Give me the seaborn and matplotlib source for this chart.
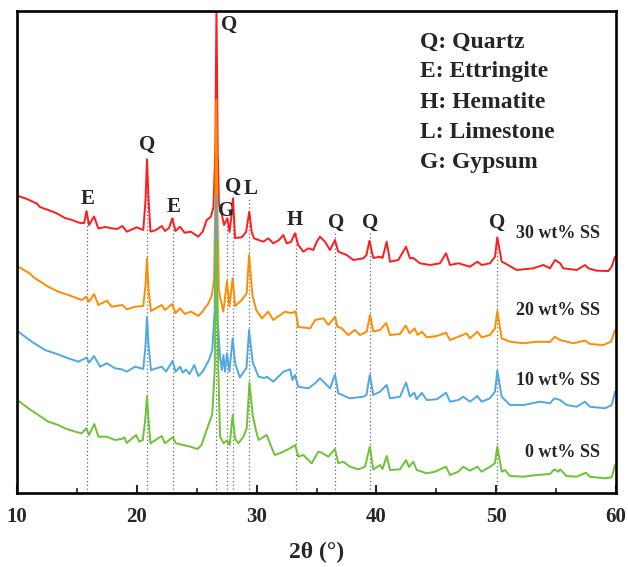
import numpy as np
import pandas as pd
import matplotlib
matplotlib.use("Agg")
import matplotlib.pyplot as plt
import seaborn as sns
from matplotlib.ticker import MultipleLocator

# ============================================================
# Data (2theta in degrees, intensity in a.u.)
# ============================================================

tt_30 = [10.11, 10.83, 11.64, 11.92, 12.59, 13.26, 14.0, 14.59, 15.26, 15.6,
         15.8, 16.01, 16.43, 16.79, 17.35, 17.9, 18.35, 18.8, 19.16, 19.68,
         19.99, 20.54, 20.73, 20.85, 20.98, 21.14, 21.6, 22.08, 22.35, 22.69,
         22.96, 23.23, 23.61, 23.98, 24.52, 25.13, 25.5, 25.83, 26.19, 26.4,
         26.55, 26.65, 26.75, 26.86, 27.07, 27.28, 27.56, 27.74, 27.91, 28.03,
         28.2, 28.76, 29.12, 29.39, 29.59, 29.78, 30.56, 30.98, 31.39, 31.87,
         32.23, 32.51, 32.87, 33.2, 33.48, 33.9, 34.32, 34.73, 35.02, 35.29,
         35.71, 36.13, 36.54, 36.82, 37.52, 38.07, 38.91, 39.17, 39.42, 39.74,
         40.3, 40.51, 40.86, 41.14, 41.83, 42.47, 42.8, 43.08, 43.64, 44.47,
         45.31, 45.81, 46.14, 46.84, 47.81, 48.42, 48.79, 49.48, 49.9, 50.09,
         50.46, 50.73, 51.71, 53.1, 53.93, 54.49, 54.91, 55.33, 55.6, 56.72,
         57.41, 57.69, 58.39, 59.36, 59.64, 59.92]
int_30 = [82, 79, 74.5, 71, 68, 65, 60, 58, 55, 55,
          67, 53, 61.5, 49.5, 51, 49.7, 49, 52, 46.3, 49,
          50.7, 48, 78, 118.7, 78, 46.3, 48, 52, 47, 50,
          59.7, 47, 51.3, 45.3, 46.3, 41.3, 46.3, 58, 61.3, 71.3,
          128, 272, 128, 73, 65, 53, 59.7, 46, 63, 79.7,
          40, 40.7, 46, 66.3, 46, 39.7, 36.3, 39.7, 34.7, 38,
          43, 34.7, 36, 44.7, 33, 26.3, 29.7, 28, 36.3, 41.3,
          36.3, 28, 38, 26.3, 23, 18, 19.7, 23, 37.3, 20,
          21.3, 20, 36.3, 16.3, 18, 31.3, 19.7, 20, 14.7, 13,
          14.7, 24.7, 13, 14.7, 11.3, 16.3, 13, 14.7, 21.3, 40.7,
          16.3, 14.7, 8, 9.7, 13, 9.7, 18, 14.7, 9.7, 8,
          13, 9.7, 7.3, 7, 11.3, 21.3]

tt_20 = [10.11, 11.0, 11.5, 12.6, 13.45, 14.28, 15.4, 15.76, 16.01, 16.43,
         16.79, 17.49, 17.9, 18.79, 19.16, 19.85, 20.54, 20.73, 20.85, 20.98,
         21.18, 22.08, 22.35, 22.96, 23.23, 23.61, 24.0, 24.52, 25.13, 25.47,
         25.94, 26.25, 26.45, 26.55, 26.63, 26.72, 26.85, 27.0, 27.22, 27.53,
         27.73, 28.0, 28.2, 28.76, 29.17, 29.37, 29.65, 29.97, 30.44, 30.98,
         31.39, 32.37, 32.87, 33.26, 33.48, 34.47, 34.88, 35.58, 35.99, 36.55,
         36.74, 37.1, 37.65, 38.21, 38.63, 39.19, 39.47, 39.74, 40.3, 40.81,
         41.14, 41.97, 42.44, 42.78, 43.19, 43.43, 43.8, 44.2, 45.04, 45.81,
         46.14, 46.84, 47.53, 47.81, 48.42, 48.79, 49.48, 49.9, 50.09, 50.46,
         51.15, 52.27, 53.38, 54.49, 54.9, 55.33, 56.44, 57.41, 57.83, 58.94,
         59.58, 59.92]
int_20 = [81.3, 75, 69.7, 61.3, 56.3, 53, 48, 51.3, 46.3, 54,
          43, 47.3, 41.3, 43, 38.7, 41.3, 42, 63, 89.7, 58,
          37, 43, 38, 44, 34.7, 39.7, 34, 36.5, 32, 36.3,
          44, 52, 68, 148, 248, 148, 58, 48, 36.3, 67,
          41.3, 69.7, 42, 48, 54.7, 93, 53, 38, 29.7, 36.3,
          28, 36.3, 35, 36.5, 21, 19.7, 28, 29.7, 23, 31.3,
          21.3, 19.7, 13, 18, 13, 16.3, 33, 16.5, 18, 25,
          13, 14, 22.5, 14.7, 19.7, 13, 16.3, 10.7, 12, 15.3,
          8, 11.3, 14.7, 9.7, 16.3, 10.7, 13, 19.7, 37, 9.7,
          6.3, 4.7, 6.3, 6, 11.3, 8, 4.7, 7.5, 4, 3,
          6.3, 18]

tt_10 = [10.11, 11.23, 12.34, 13.17, 14.28, 15.12, 15.82, 16.01, 16.43, 16.93,
         17.49, 18.18, 18.74, 19.16, 19.85, 20.54, 20.73, 20.85, 20.98, 21.18,
         22.08, 22.44, 22.99, 23.23, 23.61, 23.83, 24.1, 24.4, 24.8, 25.13,
         25.5, 26.02, 26.3, 26.5, 26.63, 26.75, 26.95, 27.1, 27.23, 27.36,
         27.53, 27.73, 28.0, 28.2, 28.6, 29.15, 29.37, 29.67, 30.16, 30.63,
         30.86, 31.39, 32.23, 32.79, 33.0, 33.2, 33.48, 34.32, 34.88, 35.29,
         35.71, 36.13, 36.54, 36.82, 37.79, 38.91, 39.17, 39.45, 39.74, 40.3,
         40.86, 41.14, 41.97, 42.47, 42.8, 43.16, 43.36, 43.78, 44.2, 45.04,
         45.81, 46.14, 46.84, 47.25, 47.81, 48.42, 48.79, 49.48, 49.9, 50.09,
         50.46, 51.15, 52.27, 53.66, 54.49, 54.85, 55.33, 55.88, 56.72, 57.41,
         57.83, 59.08, 59.64, 59.92]
int_10 = [86.3, 76.3, 68, 64.7, 59.7, 56.3, 60.5, 55.3, 62, 51.3,
          54.7, 49.7, 48.7, 46.3, 51.3, 49, 73, 101.3, 73, 48,
          51.3, 46.3, 57.3, 46.3, 51.3, 45.3, 48.5, 44, 53, 42,
          46.3, 58, 68, 108, 223, 98, 61.3, 48, 63, 46.3,
          64.7, 46.3, 79.7, 55, 40.5, 50, 88, 56, 41.3, 40,
          41.3, 36.3, 46.3, 48.7, 38, 43, 31.3, 29.7, 34.7, 39.7,
          34.7, 29.7, 43.5, 24.7, 19.7, 21.3, 23, 43.5, 23, 26.3,
          33, 19.7, 21.3, 35.5, 21.3, 25.3, 18.7, 25.3, 18, 18.7,
          25.3, 16.3, 18, 21.3, 16.3, 22, 16.3, 19.7, 26.3, 47.5,
          21.3, 13, 13, 16.3, 14.7, 19.7, 18, 13, 11.3, 16.3,
          11.3, 9.7, 13, 26.3]

tt_0 = [10.11, 10.94, 11.78, 12.61, 13.45, 14.0, 14.84, 15.4, 15.78, 16.01,
        16.45, 16.79, 17.49, 18.18, 18.74, 18.96, 19.16, 19.94, 20.2, 20.5,
        20.7, 20.85, 20.98, 21.14, 22.08, 22.35, 22.99, 23.27, 23.68, 24.35,
        25.06, 25.4, 25.92, 26.3, 26.5, 26.65, 26.8, 26.95, 27.25, 27.53,
        27.75, 28.0, 28.2, 28.48, 28.9, 29.18, 29.4, 29.67, 29.94, 30.16,
        30.84, 31.4, 31.53, 32.23, 32.79, 33.22, 33.48, 33.9, 34.6, 35.15,
        35.43, 35.99, 36.54, 36.82, 37.24, 37.79, 38.49, 39.05, 39.45, 39.74,
        40.3, 40.51, 40.86, 41.14, 41.97, 42.47, 42.72, 43.08, 43.36, 44.2,
        44.89, 45.81, 46.14, 46.84, 47.25, 47.81, 48.42, 48.79, 49.48, 49.9,
        50.09, 50.46, 50.73, 51.15, 52.27, 53.38, 54.49, 54.85, 55.19, 55.33,
        55.88, 56.72, 57.49, 57.83, 59.08, 59.64, 59.92]
int_0 = [92.2, 84.7, 78, 71.3, 68, 64.7, 61.3, 59.7, 64.7, 58,
         69, 56.3, 56.3, 53, 54, 55.7, 50, 58, 51.3, 53,
         73, 96.3, 73, 49.7, 57, 49.7, 55.7, 49.7, 48.5, 46.7,
         44, 48, 66, 79, 123, 253, 123, 56.3, 49.7, 52.7,
         48, 78, 54, 49.7, 56.3, 65, 110.5, 78, 63, 53,
         58, 41, 38, 41.3, 44.7, 48, 36.3, 38, 29.7, 41.3,
         40.3, 36.3, 44, 29.7, 31.3, 26.3, 23.7, 26.3, 46.3, 23.5,
         28, 24, 37, 23, 23.7, 33, 26, 31.3, 23, 19.7,
         21.3, 26.3, 18, 21.3, 26.3, 22.3, 26.3, 21.3, 26.3, 29.7,
         46.3, 21.3, 23, 17, 16.3, 18, 19, 23.7, 21.3, 23.7,
         17, 16.3, 20.3, 16.3, 14.7, 15.7, 28]

samples = ["30 wt% SS", "20 wt% SS", "10 wt% SS", "0 wt% SS"]
colors = ["#FF1C1C", "#FF8C00", "#4FA8E4", "#6CC334"]
offsets = [215, 145, 75, 0]

# phase markers: position, top of dotted line, label
peak_pos = [15.82, 20.85, 23.0, 26.62, 27.55, 28.03, 29.4, 33.25, 36.57, 39.47, 50.07]
peak_top = [282, 333, 275, 460, 275, 295, 295, 261, 261, 261, 250]
peak_lab = ["E", "Q", "E", "Q", "G", "Q", "L", "H", "Q", "Q", "Q"]
lab_x = [15.93, 20.85, 23.1, 27.7, 27.45, 28.05, 29.5, 33.2, 36.6, 39.45, 50.05]
lab_y = [294, 348, 286, 468, 282, 306, 304, 273, 270, 270, 270]

legend_lines = ["Q: Quartz", "E: Ettringite", "H: Hematite", "L: Limestone", "G: Gypsum"]

# ============================================================
# Build long table
# ============================================================

frames = []
for name, tt, inten, off in zip(samples,
                                [tt_30, tt_20, tt_10, tt_0],
                                [int_30, int_20, int_10, int_0],
                                offsets):
    frames.append(pd.DataFrame({
        "two_theta": tt,
        "intensity": np.array(inten) + off,
        "sample": name
    }))
df = pd.concat(frames, ignore_index=True)

# ============================================================
# Plot
# ============================================================

sns.set_style("ticks")
plt.rcParams["font.family"] = ["Liberation Serif", "DejaVu Serif"]
plt.rcParams["font.weight"] = "bold"

fig = plt.figure(figsize=(6.28, 5.67), dpi=100)
ax = fig.add_axes([0.0271, 0.1305, 0.9538, 0.8501])

ax.vlines(peak_pos, 0, peak_top, colors="#666666", linestyles=(0, (1, 2)), linewidth=0.9, zorder=1)

sns.lineplot(
    data=df,
    x="two_theta",
    y="intensity",
    hue="sample",
    hue_order=samples,
    palette=dict(zip(samples, colors)),
    estimator=None,
    sort=False,
    linewidth=1.4,
    legend=False,
    ax=ax
)

for x, y, t in zip(lab_x, lab_y, peak_lab):
    ax.text(x, y, t, ha="center", va="center", fontsize=15, fontweight="bold")

for i, t in enumerate(legend_lines):
    ax.text(0.673, 0.936 - i * 0.0625, t, transform=ax.transAxes,
            ha="left", va="center", fontsize=17, fontweight="bold")

sample_y = [260, 183, 113, 41]
for name, y in zip(samples, sample_y):
    ax.text(58.7, y, name, ha="right", va="center", fontsize=13, fontweight="bold")

ax.set_xlim(10, 60)
ax.set_ylim(0, 482)
ax.set_yticks([])
ax.set_ylabel("")
ax.set_xlabel("2θ (°)", fontsize=17, fontweight="bold", labelpad=11)

ax.xaxis.set_major_locator(MultipleLocator(10))
ax.xaxis.set_minor_locator(MultipleLocator(5))
ax.tick_params(axis="x", which="major", direction="in", length=6, width=1.5,
               labelsize=15, pad=10)
ax.tick_params(axis="x", which="minor", direction="in", length=3.5, width=1.2)
for lab in ax.get_xticklabels():
    lab.set_fontweight("bold")

for s in ax.spines.values():
    s.set_visible(True)
    s.set_linewidth(1.9)
    s.set_color("black")

fig.savefig("out.png", dpi=100)
